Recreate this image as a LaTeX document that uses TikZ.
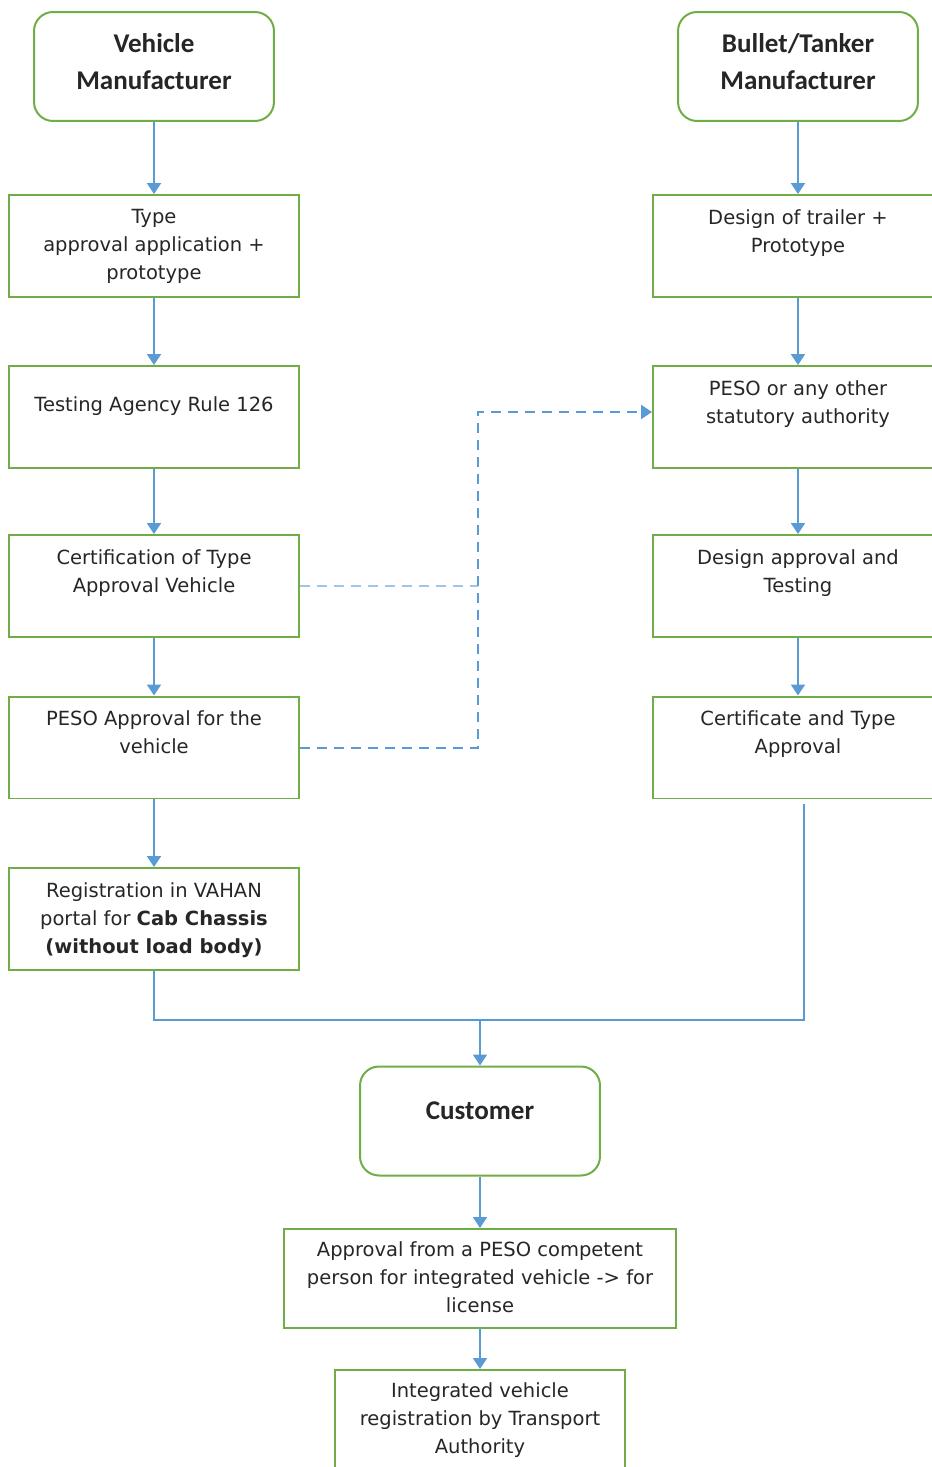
\documentclass[tikz,border=0pt]{standalone}
\usepackage{fontspec}
\setmainfont{DejaVu Sans}
\newfontfamily\headfont{Carlito}
\usetikzlibrary{arrows.meta}
\usetikzlibrary{positioning}
\definecolor{boxgreen}{RGB}{112,173,71}
\definecolor{flowblue}{RGB}{91,155,213}
\definecolor{dashblue}{RGB}{160,197,232}

\tikzset{
headbox/.style={rectangle,rounded corners=0.38cm,draw=boxgreen,line width=0.04cm,minimum width=4.8cm,minimum height=2.18cm},
stepbox/.style={rectangle,draw=boxgreen,line width=0.04cm,minimum width=5.8cm,minimum height=2.04cm},
headtext/.style={anchor=north,inner sep=0pt,align=center,text=black!85,font=\headfont\bfseries\fontsize{15.4}{21}\selectfont},
steptext/.style={anchor=north,inner sep=0pt,align=center,text=black!85,font=\fontsize{11.1}{15.9}\selectfont,yshift=-0.3cm},
flow/.style={draw=flowblue,line width=0.04cm,-{Triangle[width=0.28cm,length=0.22cm]}},
flowline/.style={draw=flowblue,line width=0.04cm},
dashlink/.style={draw=flowblue,line width=0.04cm,dash pattern=on 0.2cm off 0.14cm},
dashlight/.style={draw=dashblue,line width=0.04cm,dash pattern=on 0.2cm off 0.14cm}
}

\begin{document}
\begin{tikzpicture}[x=0.02cm,y=-0.02cm]
\useasboundingbox (0,0) rectangle (932,1467);

% manufacturers
\node[headbox,label={[headtext,yshift=-0.44cm]north:Vehicle\\Manufacturer}] (vm) at (154,66.5) {};
\node[headbox,label={[headtext,yshift=-0.44cm]north:Bullet/Tanker\\Manufacturer}] (bt) at (798,66.5) {};

% left column
\node[stepbox,label={[steptext]north:Type\\approval application +\\prototype}] (type) at (154,246) {};
\node[stepbox,label={[steptext,yshift=-0.32cm]north:Testing Agency Rule 126}] (testing) at (154,417) {};
\node[stepbox,label={[steptext]north:Certification of Type\\Approval Vehicle}] (cert) at (154,586) {};
\node[stepbox,label={[steptext]north:PESO Approval for the\\vehicle}] (pesoveh) at (154,747.5) {};
\node[stepbox,label={[steptext]north:Registration in VAHAN\\portal for \textbf{Cab Chassis}\\\textbf{(without load body)}}] (reg) at (154,919) {};

% right column
\node[stepbox,label={[steptext]north:Design of trailer +\\Prototype}] (design) at (798,246) {};
\node[stepbox,label={[steptext]north:PESO or any other\\statutory authority}] (pesoauth) at (798,417) {};
\node[stepbox,label={[steptext]north:Design approval and\\Testing}] (dapp) at (798,586) {};
\node[stepbox,label={[steptext]north:Certificate and Type\\Approval}] (certta) at (798,747.5) {};

% customer side
\node[headbox,label={[headtext,yshift=-0.72cm]north:Customer}] (cust) at (480,1121) {};
\node[stepbox,minimum width=7.86cm,minimum height=1.98cm,label={[steptext,yshift=0.04cm]north:Approval from a PESO competent\\person for integrated vehicle -> for\\license}] (approval) at (480,1278.5) {};
\node[stepbox,label={[steptext,yshift=0.04cm]north:Integrated vehicle\\registration by Transport\\Authority}] (integ) at (480,1421) {};

\draw[flow] (vm.south) -- (type.north);
\draw[flow] (type.south) -- (testing.north);
\draw[flow] (testing.south) -- (cert.north);
\draw[flow] (cert.south) -- (pesoveh.north);
\draw[flow] (pesoveh.south) -- (reg.north);

\draw[flow] (bt.south) -- (design.north);
\draw[flow] (design.south) -- (pesoauth.north);
\draw[flow] (pesoauth.south) -- (dapp.north);
\draw[flow] (dapp.south) -- (certta.north);

\coordinate (join) at (480,1020);
\draw[flowline] (reg.south) |- (join);
\draw[flowline] ([xshift=0.12cm,yshift=-0.1cm]certta.south) |- (join);
\draw[flow] (join) -- (cust.north);
\draw[flow] (cust.south) -- (approval.north);
\draw[flow] (approval.south) -- (integ.north);

% dashed links
\coordinate (bend) at (478,412);
\draw[dashlight] (cert.east) -- (cert.east -| bend);
\draw[dashlink,-{Triangle[width=0.28cm,length=0.22cm]}] (pesoveh.east) -| (bend) -- (bend -| pesoauth.west);

\end{tikzpicture}
\end{document}
